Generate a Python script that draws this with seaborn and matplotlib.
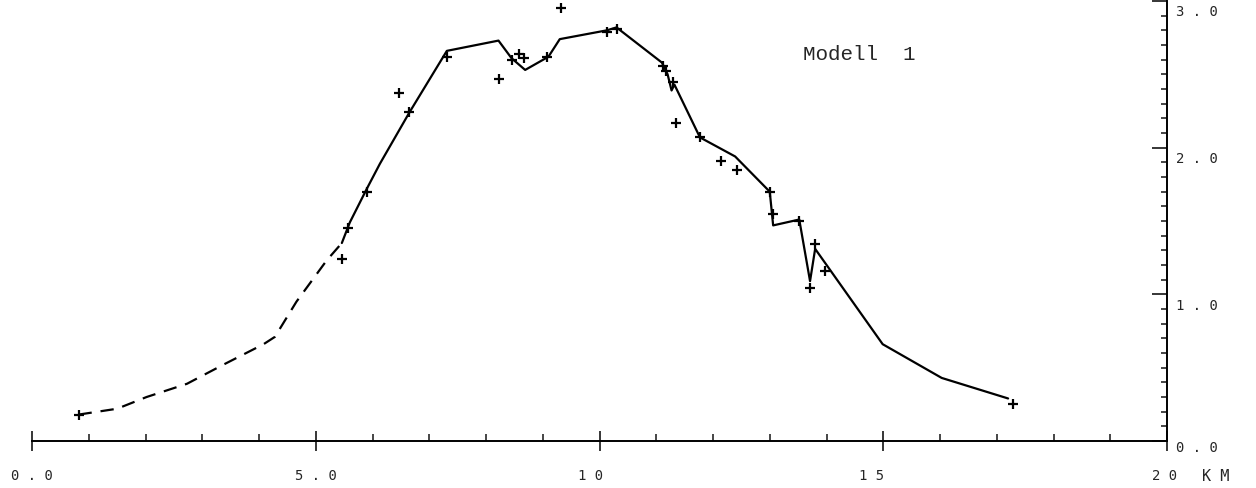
import numpy as np
import pandas as pd
import matplotlib
matplotlib.use('Agg')
import matplotlib.pyplot as plt
from matplotlib.ticker import MultipleLocator
import seaborn as sns

# model curve, dashed (extrapolated) part
dash_km = [0.82, 1.50, 2.02, 2.73, 3.37, 4.08, 4.28, 4.66, 5.19, 5.46]
dash_val = [0.18, 0.22, 0.30, 0.39, 0.52, 0.66, 0.71, 0.95, 1.23, 1.35]

# model curve, solid part
model_km = [5.46, 5.60, 5.90, 6.13, 6.65, 7.31, 8.22, 8.45, 8.69, 9.10, 9.30,
            10.13, 10.30, 11.10, 11.20, 11.27, 11.32, 11.77, 12.39, 13.00, 13.06,
            13.52, 13.71, 13.80, 14.99, 16.03, 17.20]
model_val = [1.35, 1.49, 1.72, 1.89, 2.24, 2.66, 2.73, 2.61, 2.53, 2.62, 2.74,
             2.80, 2.82, 2.58, 2.50, 2.39, 2.43, 2.07, 1.94, 1.70, 1.47,
             1.51, 1.09, 1.31, 0.66, 0.43, 0.29]

# measured points (+)
obs_km = [0.82, 5.46, 5.57, 5.90, 6.47, 6.65, 7.31, 8.23, 8.45, 8.59, 8.67,
          9.07, 9.32, 10.13, 10.31, 11.12, 11.18, 11.29, 11.35, 11.77, 12.14,
          12.42, 13.00, 13.05, 13.52, 13.71, 13.80, 13.98, 17.29]
obs_val = [0.18, 1.24, 1.45, 1.70, 2.37, 2.24, 2.62, 2.47, 2.60, 2.64, 2.61,
           2.62, 2.95, 2.79, 2.81, 2.56, 2.52, 2.45, 2.17, 2.07, 1.91,
           1.85, 1.70, 1.55, 1.50, 1.04, 1.34, 1.16, 0.25]

x_ticks = [0, 5, 10, 15, 20]
x_labels = ['0 . 0', '5 . 0', '1 0', '1 5', '2 0']
y_ticks = [0, 1, 2, 3]
y_labels = ['0 . 0', '1 . 0', '2 . 0', '3 . 0']

sns.set_style('white')
plt.rcParams['font.family'] = ['DejaVu Sans Mono', 'DejaVu Sans']

fig = plt.figure(figsize=(12.56, 4.89), dpi=100)
ax = fig.add_axes([32 / 1256, 47 / 489, 1135 / 1256, 440 / 489])

sns.lineplot(x=dash_km, y=dash_val, ax=ax, sort=False, color='black',
             linewidth=1.6, dashes=False, linestyle=(0, (6, 4)))
sns.lineplot(x=model_km, y=model_val, ax=ax, sort=False, color='black',
             linewidth=1.6)
sns.scatterplot(x=obs_km, y=obs_val, ax=ax, marker='+', s=45, color='black',
                linewidth=1.6, zorder=3)

ax.set_xlim(0, 20)
ax.set_ylim(0, 3)
for side in ['left', 'top']:
    ax.spines[side].set_visible(False)
for side in ['bottom', 'right']:
    ax.spines[side].set_linewidth(1.4)
    ax.spines[side].set_color('black')

ax.yaxis.tick_right()
ax.xaxis.set_major_locator(MultipleLocator(5))
ax.xaxis.set_minor_locator(MultipleLocator(1))
ax.yaxis.set_major_locator(MultipleLocator(1))
ax.yaxis.set_minor_locator(MultipleLocator(0.1))
ax.tick_params(axis='x', which='major', direction='inout', length=14, width=1.3,
               labelbottom=False, bottom=True)
ax.tick_params(axis='x', which='minor', direction='in', length=5, width=1.2,
               bottom=True)
ax.tick_params(axis='y', which='major', direction='in', length=11, width=1.3,
               labelright=False, right=True, left=False)
ax.tick_params(axis='y', which='minor', direction='in', length=4, width=1.2,
               right=True, left=False)

for xv, lab, dx in zip(x_ticks, x_labels, [0, 0, -0.15, -0.2, -0.05]):
    ax.text(xv + dx, -0.235, lab, ha='center', va='center', fontsize=10,
            clip_on=False)
ax.text(20.85, -0.235, 'K M', ha='center', va='center', fontsize=11,
        clip_on=False)

for yv, lab in zip(y_ticks, y_labels):
    off = -0.04 if yv == 0 else -0.07
    ax.text(20.15, yv + off, lab, ha='left', va='center', fontsize=10,
            clip_on=False)

ax.text(13.59, 2.64, 'Modell  1', ha='left', va='center', fontsize=15,
        family=['Liberation Mono', 'DejaVu Sans Mono'])

fig.savefig('out.png', dpi=100)
